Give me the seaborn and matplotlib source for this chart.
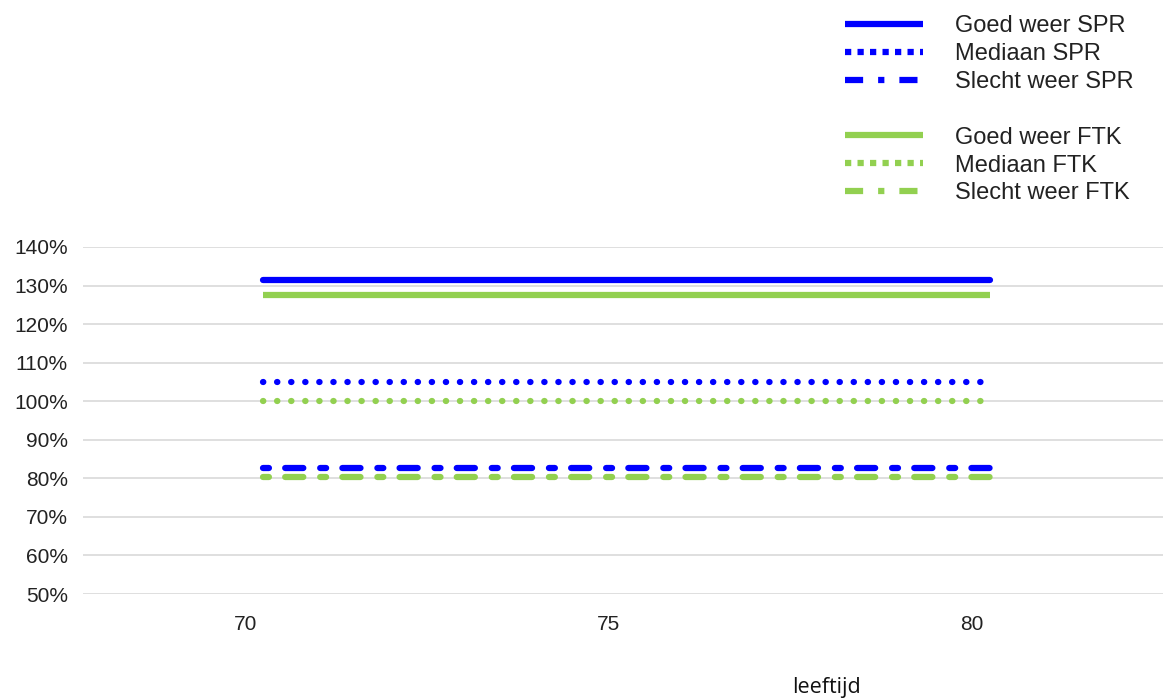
import matplotlib
matplotlib.use("Agg")
import matplotlib.pyplot as plt
import seaborn as sns
from matplotlib.lines import Line2D
from matplotlib.ticker import FuncFormatter

# ---- data ----
leeftijd = [70.25, 80.25]
goed_spr = [1.314, 1.314]
mediaan_spr = [1.049, 1.049]
slecht_spr = [0.828, 0.828]
goed_ftk = [1.275, 1.275]
mediaan_ftk = [1.000, 1.000]
slecht_ftk = [0.803, 0.803]
x_ticks = [70, 75, 80]
y_ticks = [0.5, 0.6, 0.7, 0.8, 0.9, 1.0, 1.1, 1.2, 1.3, 1.4]

BLUE = "#0000FF"
GREEN = "#92D050"
LW = 4.5
DOT = (0, (0.05, 2.2))
DASHDOT = (0, (0.95, 2.6, 2.9, 2.7))
LEG_DOT = (0, (1.0, 1.0))
LEG_DASHDOT = (0, (2.9, 2.4, 1.0, 2.4))

sns.set_theme(style="white")
plt.rcParams["font.family"] = ["Liberation Sans", "DejaVu Sans"]

fig = plt.figure(figsize=(11.63, 7.0), dpi=100)
ax = fig.add_axes([83 / 1163, 1 - 594 / 700, 1 - 83 / 1163, (594 - 247) / 700])

series = [
    (goed_spr, BLUE, "-", "-", "Goed weer SPR", "round"),
    (mediaan_spr, BLUE, DOT, LEG_DOT, "Mediaan SPR", "round"),
    (slecht_spr, BLUE, DASHDOT, LEG_DASHDOT, "Slecht weer SPR", "round"),
    (goed_ftk, GREEN, "-", "-", "Goed weer FTK", "butt"),
    (mediaan_ftk, GREEN, DOT, LEG_DOT, "Mediaan FTK", "round"),
    (slecht_ftk, GREEN, DASHDOT, LEG_DASHDOT, "Slecht weer FTK", "round"),
]
handles = []
for vals, col, ls, legls, lab, cap in series:
    sns.lineplot(x=leeftijd, y=vals, ax=ax, color=col, linewidth=LW, linestyle=ls)
    ln = ax.get_lines()[-1]
    ln.set_dash_capstyle("round")
    ln.set_solid_capstyle(cap)
    handles.append(Line2D([], [], color=col, linewidth=LW, linestyle=legls,
                          dash_capstyle="butt", solid_capstyle="butt", label=lab))

ax.set_xlim(67.77, 82.63)
ax.set_ylim(0.5, 1.4)
ax.set_xticks(x_ticks)
ax.set_yticks(y_ticks)
ax.yaxis.set_major_formatter(FuncFormatter(lambda v, p: f"{v * 100:.0f}%"))
ax.grid(axis="y", color="#d9d9d9", linewidth=1.2)
ax.grid(axis="x", visible=False)
for s in ax.spines.values():
    s.set_visible(False)
ax.tick_params(axis="both", length=0, labelsize=15, colors="#222222")
ax.tick_params(axis="x", pad=15)
ax.tick_params(axis="y", pad=11)
ax.set_xlabel("")
ax.set_ylabel("")

blank = Line2D([], [], linestyle="none", label=" ")
leg_handles = handles[:3] + [blank] + handles[3:]
fig.legend(handles=leg_handles, loc="upper left", bbox_to_anchor=(845 / 1163, 1 - 15 / 700),
           frameon=False, fontsize=17, handlelength=3.3, handletextpad=1.35,
           labelspacing=0.25, borderaxespad=0, borderpad=0, labelcolor="#222222")

fig.text(826 / 1163, 1 - 688 / 700, "leeftijd", ha="center", va="center",
         fontsize=15.5, family=["Open Sans", "DejaVu Sans"], color="#111111")

fig.savefig("out.png", dpi=100)
